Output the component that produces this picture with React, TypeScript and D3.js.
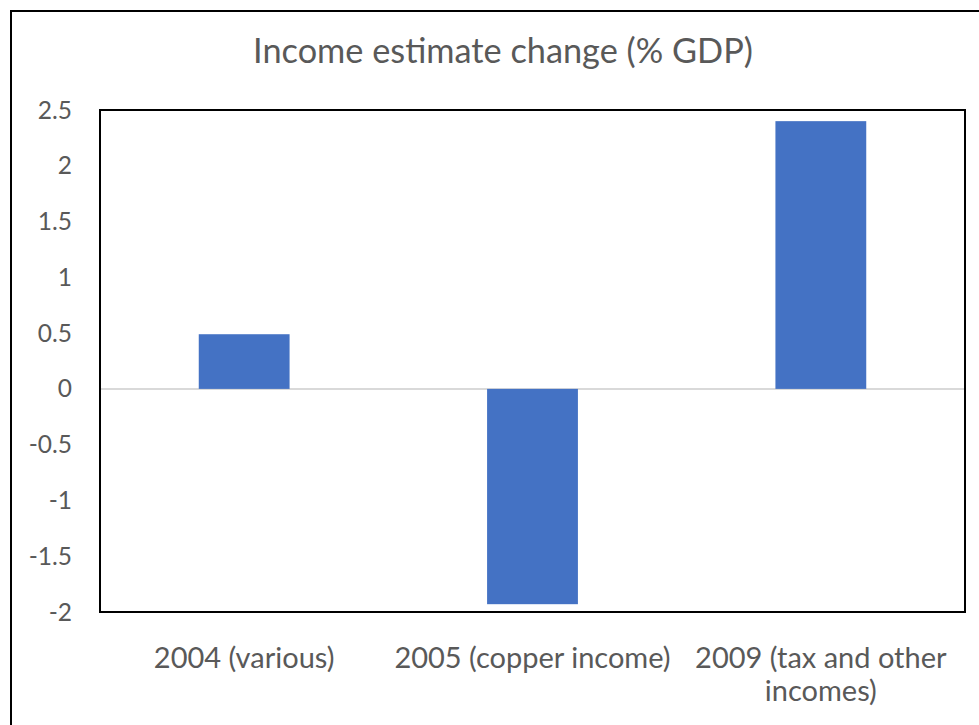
import React from "react";
import * as d3 from "d3";

const categories: string[][] = [["2004 (various)"], ["2005 (copper income)"], ["2009 (tax and other", "incomes)"]];
const values: number[] = [0.49, -1.93, 2.4];
const yTicks: number[] = [2.5, 2, 1.5, 1, 0.5, 0, -0.5, -1, -1.5, -2];
const title = "Income estimate change (% GDP)";

export default function App() {
  const W = 979, H = 725;
  const left = 100, right = 965, top = 110, bottom = 612;
  const font = "Lato, 'Open Sans', 'Liberation Sans', sans-serif";
  const y = d3.scaleLinear().domain([-2, 2.5]).range([bottom, top]);
  const x = d3.scaleBand<number>().domain(categories.map((_, i) => i)).range([left, right]).paddingInner(0.685).paddingOuter(0.685 / 2);
  const textColor = "#595959";
  return (
    <svg width={W} height={H} style={{ position: "absolute", left: 0, top: 0, background: "#fff" }}>
      <rect x={11} y={11} width={W + 20} height={H + 20} fill="white" stroke="black" strokeWidth={2} />
      <text x={503} y={63} textAnchor="middle" fontFamily={font} fontSize={34.3} fill={textColor}>{title}</text>
      {yTicks.map((t) => (
        <text key={t} x={72} y={y(t)} dy="0.35em" textAnchor="end" fontFamily={font} fontSize={24.5} fill={textColor}>{t}</text>
      ))}
      <line x1={left} x2={right} y1={y(0)} y2={y(0)} stroke="#d9d9d9" strokeWidth={2} />
      {values.map((v, i) => (
        <rect key={i} x={x(i)} y={y(Math.max(0, v))} width={x.bandwidth()} height={Math.abs(y(v) - y(0))} fill="#4472C4" />
      ))}
      <rect x={left} y={top} width={right - left} height={bottom - top} fill="none" stroke="black" strokeWidth={2} />
      {categories.map((lines, i) => (
        <text key={i} textAnchor="middle" fontFamily={font} fontSize={29} fill={textColor}>
          {lines.map((l, j) => (
            <tspan key={j} x={(x(i) as number) + x.bandwidth() / 2} y={668 + j * 33}>{l}</tspan>
          ))}
        </text>
      ))}
    </svg>
  );
}
